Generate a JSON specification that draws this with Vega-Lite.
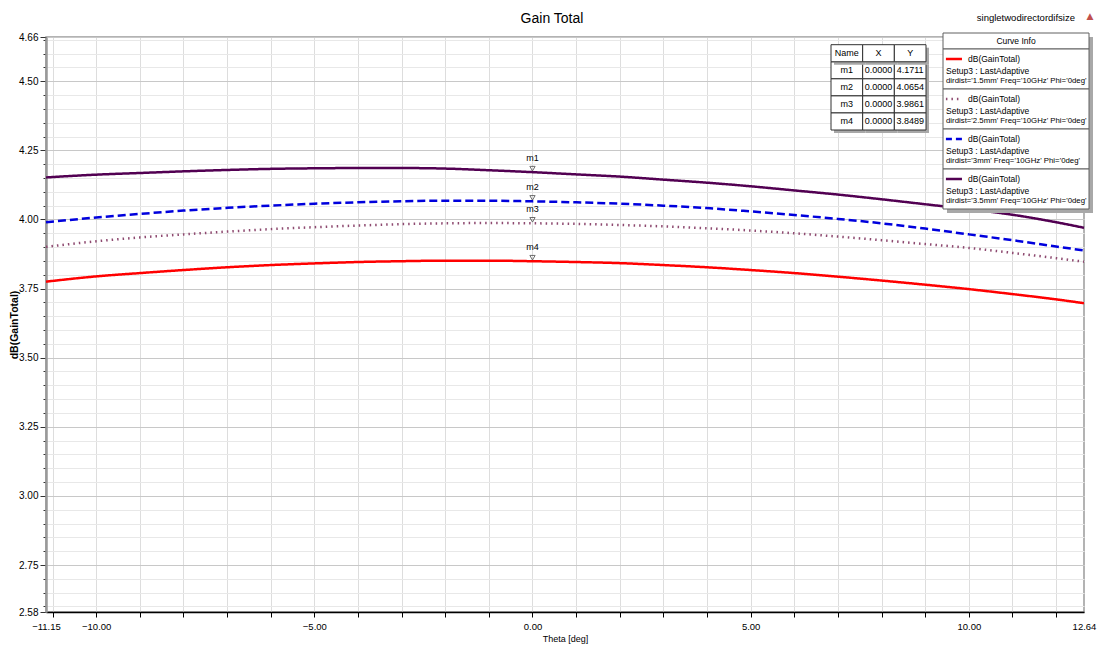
{
  "$schema": "https://vega.github.io/schema/vega-lite/v6.json",
  "width": 1038,
  "height": 575,
  "autosize": {"type": "none"},
  "padding": {"left": 46, "top": 37, "right": 13, "bottom": 38},
  "background": "white",
  "title": {"text": "Gain Total", "fontSize": 14, "fontWeight": "normal", "font": "Liberation Sans, Arial, sans-serif", "anchor": "middle", "frame": "group", "offset": 13, "dy": 27, "dx": -13, "color": "#000"},
  "config": {
    "view": {"stroke": "#9a9a9a", "strokeWidth": 1.5},
    "font": "Liberation Sans, Arial, sans-serif",
    "axis": {"labelFont": "Liberation Sans, Arial, sans-serif", "titleFont": "Liberation Sans, Arial, sans-serif", "labelColor": "#000", "titleColor": "#000"},
    "text": {"font": "Liberation Sans, Arial, sans-serif", "color": "#000"}
  },
  "datasets": {
    "curves": [
      {"theta": -11.15, "gain": 3.775, "series": "1.5mm"}, {"theta": -10, "gain": 3.794, "series": "1.5mm"}, {"theta": -9, "gain": 3.806, "series": "1.5mm"}, {"theta": -8, "gain": 3.817, "series": "1.5mm"}, {"theta": -7, "gain": 3.827, "series": "1.5mm"}, {"theta": -6, "gain": 3.835, "series": "1.5mm"}, {"theta": -5, "gain": 3.841, "series": "1.5mm"}, {"theta": -4, "gain": 3.846, "series": "1.5mm"}, {"theta": -3, "gain": 3.849, "series": "1.5mm"}, {"theta": -2, "gain": 3.851, "series": "1.5mm"}, {"theta": -1, "gain": 3.851, "series": "1.5mm"}, {"theta": 0, "gain": 3.8489, "series": "1.5mm"}, {"theta": 1, "gain": 3.846, "series": "1.5mm"}, {"theta": 2, "gain": 3.842, "series": "1.5mm"}, {"theta": 3, "gain": 3.835, "series": "1.5mm"}, {"theta": 4, "gain": 3.827, "series": "1.5mm"}, {"theta": 5, "gain": 3.817, "series": "1.5mm"}, {"theta": 6, "gain": 3.806, "series": "1.5mm"}, {"theta": 7, "gain": 3.793, "series": "1.5mm"}, {"theta": 8, "gain": 3.779, "series": "1.5mm"}, {"theta": 9, "gain": 3.764, "series": "1.5mm"}, {"theta": 10, "gain": 3.748, "series": "1.5mm"}, {"theta": 11, "gain": 3.730, "series": "1.5mm"}, {"theta": 12, "gain": 3.711, "series": "1.5mm"}, {"theta": 12.64, "gain": 3.697, "series": "1.5mm"},
      {"theta": -11.15, "gain": 3.901, "series": "2.5mm"}, {"theta": -10, "gain": 3.921, "series": "2.5mm"}, {"theta": -9, "gain": 3.935, "series": "2.5mm"}, {"theta": -8, "gain": 3.946, "series": "2.5mm"}, {"theta": -7, "gain": 3.956, "series": "2.5mm"}, {"theta": -6, "gain": 3.965, "series": "2.5mm"}, {"theta": -5, "gain": 3.972, "series": "2.5mm"}, {"theta": -4, "gain": 3.978, "series": "2.5mm"}, {"theta": -3, "gain": 3.983, "series": "2.5mm"}, {"theta": -2, "gain": 3.986, "series": "2.5mm"}, {"theta": -1, "gain": 3.987, "series": "2.5mm"}, {"theta": 0, "gain": 3.9861, "series": "2.5mm"}, {"theta": 1, "gain": 3.984, "series": "2.5mm"}, {"theta": 2, "gain": 3.980, "series": "2.5mm"}, {"theta": 3, "gain": 3.975, "series": "2.5mm"}, {"theta": 4, "gain": 3.968, "series": "2.5mm"}, {"theta": 5, "gain": 3.960, "series": "2.5mm"}, {"theta": 6, "gain": 3.950, "series": "2.5mm"}, {"theta": 7, "gain": 3.938, "series": "2.5mm"}, {"theta": 8, "gain": 3.925, "series": "2.5mm"}, {"theta": 9, "gain": 3.911, "series": "2.5mm"}, {"theta": 10, "gain": 3.897, "series": "2.5mm"}, {"theta": 11, "gain": 3.879, "series": "2.5mm"}, {"theta": 12, "gain": 3.860, "series": "2.5mm"}, {"theta": 12.64, "gain": 3.847, "series": "2.5mm"},
      {"theta": -11.15, "gain": 3.990, "series": "3mm"}, {"theta": -10, "gain": 4.007, "series": "3mm"}, {"theta": -9, "gain": 4.020, "series": "3mm"}, {"theta": -8, "gain": 4.032, "series": "3mm"}, {"theta": -7, "gain": 4.042, "series": "3mm"}, {"theta": -6, "gain": 4.050, "series": "3mm"}, {"theta": -5, "gain": 4.057, "series": "3mm"}, {"theta": -4, "gain": 4.062, "series": "3mm"}, {"theta": -3, "gain": 4.066, "series": "3mm"}, {"theta": -2, "gain": 4.068, "series": "3mm"}, {"theta": -1, "gain": 4.068, "series": "3mm"}, {"theta": 0, "gain": 4.0654, "series": "3mm"}, {"theta": 1, "gain": 4.062, "series": "3mm"}, {"theta": 2, "gain": 4.057, "series": "3mm"}, {"theta": 3, "gain": 4.050, "series": "3mm"}, {"theta": 4, "gain": 4.041, "series": "3mm"}, {"theta": 5, "gain": 4.029, "series": "3mm"}, {"theta": 6, "gain": 4.016, "series": "3mm"}, {"theta": 7, "gain": 4.002, "series": "3mm"}, {"theta": 8, "gain": 3.986, "series": "3mm"}, {"theta": 9, "gain": 3.967, "series": "3mm"}, {"theta": 10, "gain": 3.946, "series": "3mm"}, {"theta": 11, "gain": 3.925, "series": "3mm"}, {"theta": 12, "gain": 3.902, "series": "3mm"}, {"theta": 12.64, "gain": 3.888, "series": "3mm"},
      {"theta": -11.15, "gain": 4.152, "series": "3.5mm"}, {"theta": -10, "gain": 4.162, "series": "3.5mm"}, {"theta": -9, "gain": 4.168, "series": "3.5mm"}, {"theta": -8, "gain": 4.174, "series": "3.5mm"}, {"theta": -7, "gain": 4.179, "series": "3.5mm"}, {"theta": -6, "gain": 4.183, "series": "3.5mm"}, {"theta": -5, "gain": 4.185, "series": "3.5mm"}, {"theta": -4, "gain": 4.186, "series": "3.5mm"}, {"theta": -3, "gain": 4.186, "series": "3.5mm"}, {"theta": -2, "gain": 4.184, "series": "3.5mm"}, {"theta": -1, "gain": 4.178, "series": "3.5mm"}, {"theta": 0, "gain": 4.1711, "series": "3.5mm"}, {"theta": 1, "gain": 4.163, "series": "3.5mm"}, {"theta": 2, "gain": 4.155, "series": "3.5mm"}, {"theta": 3, "gain": 4.144, "series": "3.5mm"}, {"theta": 4, "gain": 4.133, "series": "3.5mm"}, {"theta": 5, "gain": 4.120, "series": "3.5mm"}, {"theta": 6, "gain": 4.105, "series": "3.5mm"}, {"theta": 7, "gain": 4.090, "series": "3.5mm"}, {"theta": 8, "gain": 4.073, "series": "3.5mm"}, {"theta": 9, "gain": 4.055, "series": "3.5mm"}, {"theta": 10, "gain": 4.037, "series": "3.5mm"}, {"theta": 11, "gain": 4.017, "series": "3.5mm"}, {"theta": 12, "gain": 3.990, "series": "3.5mm"}, {"theta": 12.64, "gain": 3.970, "series": "3.5mm"}
    ],
    "markers": [
      {"name": "m1", "theta": 0, "gain": 4.1711},
      {"name": "m2", "theta": 0, "gain": 4.0654},
      {"name": "m3", "theta": 0, "gain": 3.9861},
      {"name": "m4", "theta": 0, "gain": 3.8489}
    ],
    "info": [
      {"series": "1.5mm", "line1": "dB(GainTotal)", "line2": "Setup3 : LastAdaptive", "line3": "dirdist='1.5mm' Freq='10GHz' Phi='0deg'"},
      {"series": "2.5mm", "line1": "dB(GainTotal)", "line2": "Setup3 : LastAdaptive", "line3": "dirdist='2.5mm' Freq='10GHz' Phi='0deg'"},
      {"series": "3mm", "line1": "dB(GainTotal)", "line2": "Setup3 : LastAdaptive", "line3": "dirdist='3mm' Freq='10GHz' Phi='0deg'"},
      {"series": "3.5mm", "line1": "dB(GainTotal)", "line2": "Setup3 : LastAdaptive", "line3": "dirdist='3.5mm' Freq='10GHz' Phi='0deg'"}
    ]
  },
  "layer": [
    {
      "resolve": {"axis": {"x": "independent", "y": "independent"}},
      "layer": [
        {
          "data": {"name": "curves"},
          "mark": {"type": "line", "strokeWidth": 2.5, "interpolate": "monotone", "strokeCap": "butt"},
          "encoding": {
            "x": {"field": "theta", "type": "quantitative", "scale": {"domain": [-11.15, 12.64], "nice": false, "zero": false},
              "axis": {"orient": "bottom", "values": [-11, -10, -9, -8, -7, -6, -5, -4, -3, -2, -1, 0, 1, 2, 3, 4, 5, 6, 7, 8, 9, 10, 11, 12], "labels": false, "grid": true, "gridColor": "#dddddd", "gridWidth": 1, "ticks": true, "tickSize": 5, "tickColor": "#000", "domain": false, "title": null}},
            "y": {"field": "gain", "type": "quantitative", "scale": {"domain": [2.58, 4.66], "nice": false, "zero": false},
              "axis": {"orient": "left", "values": [2.60, 2.65, 2.70, 2.75, 2.80, 2.85, 2.90, 2.95, 3.00, 3.05, 3.10, 3.15, 3.20, 3.25, 3.30, 3.35, 3.40, 3.45, 3.50, 3.55, 3.60, 3.65, 3.70, 3.75, 3.80, 3.85, 3.90, 3.95, 4.00, 4.05, 4.10, 4.15, 4.20, 4.25, 4.30, 4.35, 4.40, 4.45, 4.50, 4.55, 4.60, 4.65], "labels": false, "grid": true, "gridColor": "#e8e8e8", "ticks": true, "tickSize": 3, "tickColor": "#333", "domain": false, "title": null}},
            "color": {"field": "series", "type": "nominal", "scale": {"domain": ["1.5mm", "2.5mm", "3mm", "3.5mm"], "range": ["#ff0000", "#8e4a70", "#0000dd", "#520052"]}, "legend": null},
            "strokeDash": {"field": "series", "type": "nominal", "scale": {"domain": ["1.5mm", "2.5mm", "3mm", "3.5mm"], "range": [[1, 0], [1.5, 4], [8, 4], [1, 0]]}, "legend": null}
          }
        },
        {
          "data": {"name": "markers"},
          "mark": {"type": "point", "shape": "triangle-down", "size": 28, "filled": false, "strokeWidth": 1, "color": "#333", "yOffset": -3.5},
          "encoding": {
            "x": {"field": "theta", "type": "quantitative", "scale": {"domain": [-11.15, 12.64], "nice": false, "zero": false},
              "axis": {"orient": "bottom", "values": [-11.15, -10, -5, 0, 5, 10, 12.64], "format": ".2f", "grid": false, "ticks": false, "domain": true, "domainColor": "#000", "domainWidth": 1.5, "labelFontSize": 9.5, "labelPadding": 9, "labelFlush": false, "labelOverlap": false, "labelBound": false, "title": "Theta [deg]", "titleFontSize": 9, "titleFontWeight": "normal", "titlePadding": 4}},
            "y": {"field": "gain", "type": "quantitative", "scale": {"domain": [2.58, 4.66], "nice": false, "zero": false},
              "axis": {"orient": "left", "values": [2.58, 2.75, 3.0, 3.25, 3.5, 3.75, 4.0, 4.25, 4.5, 4.66], "format": ".2f", "grid": true, "gridColor": "#c8c8c8", "tickSize": 6, "tickColor": "#333", "domain": true, "domainColor": "#999", "domainWidth": 2.5, "labelFontSize": 10, "labelPadding": 2, "labelOverlap": false, "labelFlush": false, "title": "dB(GainTotal)", "titleFontSize": 10.5, "titleFontWeight": "bold", "titlePadding": -1}}
          }
        },
        {
          "data": {"name": "markers"},
          "mark": {"type": "text", "fontSize": 9, "baseline": "middle", "dy": -14},
          "encoding": {
            "x": {"field": "theta", "type": "quantitative", "axis": null},
            "y": {"field": "gain", "type": "quantitative", "axis": null},
            "text": {"field": "name"}
          }
        },
        {
          "data": {"values": [{"label": "singletwodirectordifsize"}]},
          "mark": {"type": "text", "fontSize": 9.5, "align": "right", "baseline": "middle", "dx": -9, "dy": -19},
          "encoding": {
            "x": {"datum": 12.64, "type": "quantitative", "axis": null},
            "y": {"datum": 4.66, "type": "quantitative", "axis": null},
            "text": {"field": "label"}
          }
        },
        {
          "data": {"values": [{"label": "▲"}]},
          "mark": {"type": "text", "fontSize": 9, "font": "DejaVu Sans", "align": "center", "baseline": "middle", "dx": 6, "dy": -21, "color": "#c0504d"},
          "encoding": {
            "x": {"datum": 12.64, "type": "quantitative", "axis": null},
            "y": {"datum": 4.66, "type": "quantitative", "axis": null},
            "text": {"field": "label"}
          }
        }
      ]
    },
    {
      "encoding": {
        "x": {"field": "col", "type": "nominal", "scale": {"type": "band", "domain": ["Name", "X", "Y"], "range": [785, 880], "paddingInner": 0, "paddingOuter": 0}, "axis": null},
        "y": {"field": "name", "type": "nominal", "scale": {"type": "band", "domain": ["Name", "m1", "m2", "m3", "m4"], "range": [7.7, 93], "paddingInner": 0, "paddingOuter": 0}, "axis": null}
      },
      "layer": [
        {
          "data": {"name": "markers"},
          "transform": [
            {"calculate": "format(datum.theta, '.4f')", "as": "X"},
            {"calculate": "format(datum.gain, '.4f')", "as": "Y"},
            {"calculate": "datum.name", "as": "Name"},
            {"fold": ["Name", "X", "Y"], "as": ["col", "cell"]}
          ],
          "layer": [
            {"mark": {"type": "rect", "fill": "#a8a8a8", "xOffset": 3, "x2Offset": 3, "yOffset": 3, "y2Offset": 3}},
            {"mark": {"type": "rect", "fill": "white", "stroke": "#303030", "strokeWidth": 1}},
            {"mark": {"type": "text", "fontSize": 9}, "encoding": {"text": {"field": "cell"}}}
          ]
        },
        {
          "data": {"values": [{"col": "Name", "name": "Name"}, {"col": "X", "name": "Name"}, {"col": "Y", "name": "Name"}]},
          "layer": [
            {"mark": {"type": "rect", "fill": "#a8a8a8", "xOffset": 3, "x2Offset": 3, "yOffset": 3, "y2Offset": 3}},
            {"mark": {"type": "rect", "fill": "white", "stroke": "#303030", "strokeWidth": 1}},
            {"mark": {"type": "text", "fontSize": 9}, "encoding": {"text": {"field": "col"}}}
          ]
        }
      ]
    },
    {
      "data": {"values": [{"title": "Curve Info"}]},
      "encoding": {
        "y": {"field": "title", "type": "nominal", "scale": {"type": "band", "domain": ["Curve Info"], "range": [-4, 12], "paddingInner": 0, "paddingOuter": 0}, "axis": null}
      },
      "layer": [
        {"mark": {"type": "rect", "fill": "#a8a8a8", "xOffset": 4, "x2Offset": 4, "yOffset": 4, "y2Offset": 4},
          "encoding": {"x": {"datum": 0, "type": "quantitative", "scale": {"domain": [0, 1], "range": [897, 1043]}, "axis": null}, "x2": {"datum": 1}}},
        {"mark": {"type": "rect", "fill": "white", "stroke": "#606060", "strokeWidth": 1},
          "encoding": {"x": {"datum": 0, "type": "quantitative", "scale": {"domain": [0, 1], "range": [897, 1043]}, "axis": null}, "x2": {"datum": 1}}},
        {"mark": {"type": "text", "fontSize": 8.5, "align": "center", "baseline": "middle"},
          "encoding": {"x": {"datum": 0.5, "type": "quantitative", "scale": {"domain": [0, 1], "range": [897, 1043]}, "axis": null}, "text": {"field": "title"}}}
      ]
    },
    {
      "data": {"name": "info"},
      "encoding": {
        "y": {"field": "series", "type": "nominal", "scale": {"type": "band", "domain": ["1.5mm", "2.5mm", "3mm", "3.5mm"], "range": [12, 172], "paddingInner": 0, "paddingOuter": 0}, "axis": null}
      },
      "layer": [
        {"mark": {"type": "rect", "fill": "#a8a8a8", "xOffset": 4, "x2Offset": 4, "yOffset": 4, "y2Offset": 4},
          "encoding": {"x": {"datum": 0, "type": "quantitative", "scale": {"domain": [0, 1], "range": [897, 1043]}, "axis": null}, "x2": {"datum": 1}}},
        {"mark": {"type": "rect", "fill": "white", "stroke": "#606060", "strokeWidth": 1},
          "encoding": {"x": {"datum": 0, "type": "quantitative", "scale": {"domain": [0, 1], "range": [897, 1043]}, "axis": null}, "x2": {"datum": 1}}},
        {"mark": {"type": "rule", "strokeWidth": 2.5, "yOffset": -10, "strokeCap": "butt"},
          "encoding": {
            "x": {"datum": 0.02, "type": "quantitative", "scale": {"domain": [0, 1], "range": [897, 1043]}, "axis": null},
            "x2": {"datum": 0.13},
            "color": {"field": "series", "type": "nominal", "scale": {"domain": ["1.5mm", "2.5mm", "3mm", "3.5mm"], "range": ["#ff0000", "#8e4a70", "#0000dd", "#520052"]}, "legend": null},
            "strokeDash": {"field": "series", "type": "nominal", "scale": {"domain": ["1.5mm", "2.5mm", "3mm", "3.5mm"], "range": [[1, 0], [1.5, 4], [6, 4], [1, 0]]}, "legend": null}
          }},
        {"mark": {"type": "text", "fontSize": 8.5, "align": "left", "baseline": "middle", "dx": 25, "dy": -10},
          "encoding": {"x": {"datum": 0, "type": "quantitative", "scale": {"domain": [0, 1], "range": [897, 1043]}, "axis": null}, "text": {"field": "line1"}}},
        {"mark": {"type": "text", "fontSize": 8.5, "align": "left", "baseline": "middle", "dx": 3, "dy": 2},
          "encoding": {"x": {"datum": 0, "type": "quantitative", "scale": {"domain": [0, 1], "range": [897, 1043]}, "axis": null}, "text": {"field": "line2"}}},
        {"mark": {"type": "text", "fontSize": 7.8, "align": "left", "baseline": "middle", "dx": 3, "dy": 12},
          "encoding": {"x": {"datum": 0, "type": "quantitative", "scale": {"domain": [0, 1], "range": [897, 1043]}, "axis": null}, "text": {"field": "line3"}}}
      ]
    }
  ],
  "resolve": {"scale": {"x": "independent", "y": "independent", "color": "independent", "strokeDash": "independent"}}
}
